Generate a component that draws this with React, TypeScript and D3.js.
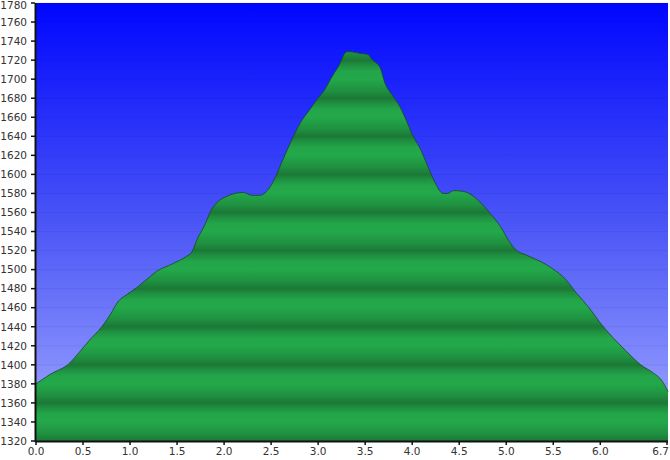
import React from "react";
import * as d3 from "d3";

const distanceKm = [
  0.0, 0.15, 0.36, 0.45, 0.57, 0.7, 0.81, 0.87, 0.97, 1.07, 1.18, 1.28, 1.45, 1.6, 1.66, 1.71, 1.8, 1.86, 1.92,
  2.03, 2.2, 2.3, 2.38, 2.49, 2.55, 2.61, 2.7, 2.81, 2.91, 2.99, 3.07, 3.15, 3.23, 3.29, 3.32, 3.45, 3.53, 3.57,
  3.66, 3.71, 3.79, 3.87, 3.94, 4.01, 4.08, 4.16, 4.23, 4.33, 4.38, 4.44, 4.55, 4.65, 4.72, 4.83, 4.94, 5.03,
  5.1, 5.22, 5.43, 5.52, 5.61, 5.75, 5.88, 6.0, 6.14, 6.28, 6.43, 6.57, 6.65, 6.72,
];
const elevationM = [
  1380, 1390, 1402, 1412, 1426, 1440, 1456, 1466, 1474, 1481, 1490, 1498, 1506, 1514, 1519, 1531, 1548, 1562, 1570,
  1577, 1581, 1578, 1578, 1587, 1598, 1612, 1632, 1654, 1668, 1679, 1689, 1703, 1716, 1728, 1729, 1727, 1726, 1721,
  1712, 1696, 1683, 1671, 1656, 1640, 1628, 1610, 1594, 1580, 1580, 1583, 1582, 1577, 1571, 1559, 1545, 1530,
  1521, 1515, 1505, 1499, 1492, 1475, 1460, 1444, 1428, 1414, 1400, 1391, 1384, 1372,
];
const xTickValues = [0, 0.5, 1, 1.5, 2, 2.5, 3, 3.5, 4, 4.5, 5, 5.5, 6, 6.72];
const xTickLabels = ["0.0", "0.5", "1.0", "1.5", "2.0", "2.5", "3.0", "3.5", "4.0", "4.5", "5.0", "5.5", "6.0", "6.7"];
const yTickValues = d3.range(1320, 1781, 20);

const W = 670;
const H = 460;
const left = 36;
const right = 668;
const top = 3;
const bottom = 441;

export default function App() {
  const x = d3.scaleLinear().domain([0, 6.72]).range([left, right]);
  const y = d3.scaleLinear().domain([1320, 1780]).range([bottom, top]);
  const pts = distanceKm.map((d, i) => [d, elevationM[i]] as [number, number]);
  const area = d3
    .area<[number, number]>()
    .x((d) => x(d[0]))
    .y0(bottom)
    .y1((d) => y(d[1]))
    .curve(d3.curveMonotoneX);
  const line = d3
    .line<[number, number]>()
    .x((d) => x(d[0]))
    .y((d) => y(d[1]))
    .curve(d3.curveMonotoneX);
  const font = "'DejaVu Sans', Verdana, sans-serif";
  return (
    <svg
      width={W}
      height={H}
      style={{ position: "absolute", left: 0, top: 0, background: "#fff" }}
      fontFamily={font}
    >
      <defs>
        <linearGradient id="sky" x1="0" y1={top} x2="0" y2={bottom} gradientUnits="userSpaceOnUse">
          <stop offset="0" stopColor="#0006ff" />
          <stop offset="0.5" stopColor="#4a55f6" />
          <stop offset="1" stopColor="#a2aaff" />
        </linearGradient>
        <linearGradient
          id="ground"
          x1="0"
          y1={y(1400)}
          x2="0"
          y2={y(1360)}
          gradientUnits="userSpaceOnUse"
          spreadMethod="repeat"
        >
          <stop offset="0" stopColor="#1b7836" />
          <stop offset="0.12" stopColor="#1f8e40" />
          <stop offset="0.3" stopColor="#23a64a" />
          <stop offset="0.5" stopColor="#23a84a" />
          <stop offset="0.8" stopColor="#1f9141" />
          <stop offset="1" stopColor="#1b7836" />
        </linearGradient>
      </defs>
      <rect x={left} y={top} width={right - left} height={bottom - top} fill="url(#sky)" />
      {yTickValues.map((v) => (
        <line
          key={"g" + v}
          x1={left}
          x2={right}
          y1={y(v)}
          y2={y(v)}
          stroke="#1a1a80"
          strokeOpacity={0.08}
          strokeWidth={1}
        />
      ))}
      <path d={area(pts) || ""} fill="url(#ground)" />
      <path d={line(pts) || ""} fill="none" stroke="#174a22" strokeWidth={1} strokeOpacity={0.8} />
      <line x1={left - 0.5} x2={left - 0.5} y1={top} y2={bottom + 1} stroke="#111" strokeWidth={2} />
      <line x1={left - 1} x2={right} y1={bottom + 0.5} y2={bottom + 0.5} stroke="#111" strokeWidth={2} />
      {yTickValues.map((v) => (
        <g key={"y" + v}>
          <line x1={left - 5} x2={left - 1} y1={y(v)} y2={y(v)} stroke="#111" strokeWidth={1.5} />
          <text x={27} y={Math.max(y(v), 5)} dy="0.36em" textAnchor="end" fontSize={10.5} fill="#333">
            {String(v)}
          </text>
        </g>
      ))}
      {xTickValues.map((v, i) => {
        const last = i === xTickValues.length - 1;
        return (
          <g key={"x" + v}>
            <line x1={x(v) - (last ? 1 : 0)} x2={x(v) - (last ? 1 : 0)} y1={bottom + 1} y2={bottom + 4} stroke="#111" strokeWidth={1.5} />
            <text
              x={last ? 669 : x(v)}
              y={455}
              textAnchor={last ? "end" : "middle"}
              fontSize={10.5}
              fill="#333"
            >
              {xTickLabels[i]}
            </text>
          </g>
        );
      })}
    </svg>
  );
}
